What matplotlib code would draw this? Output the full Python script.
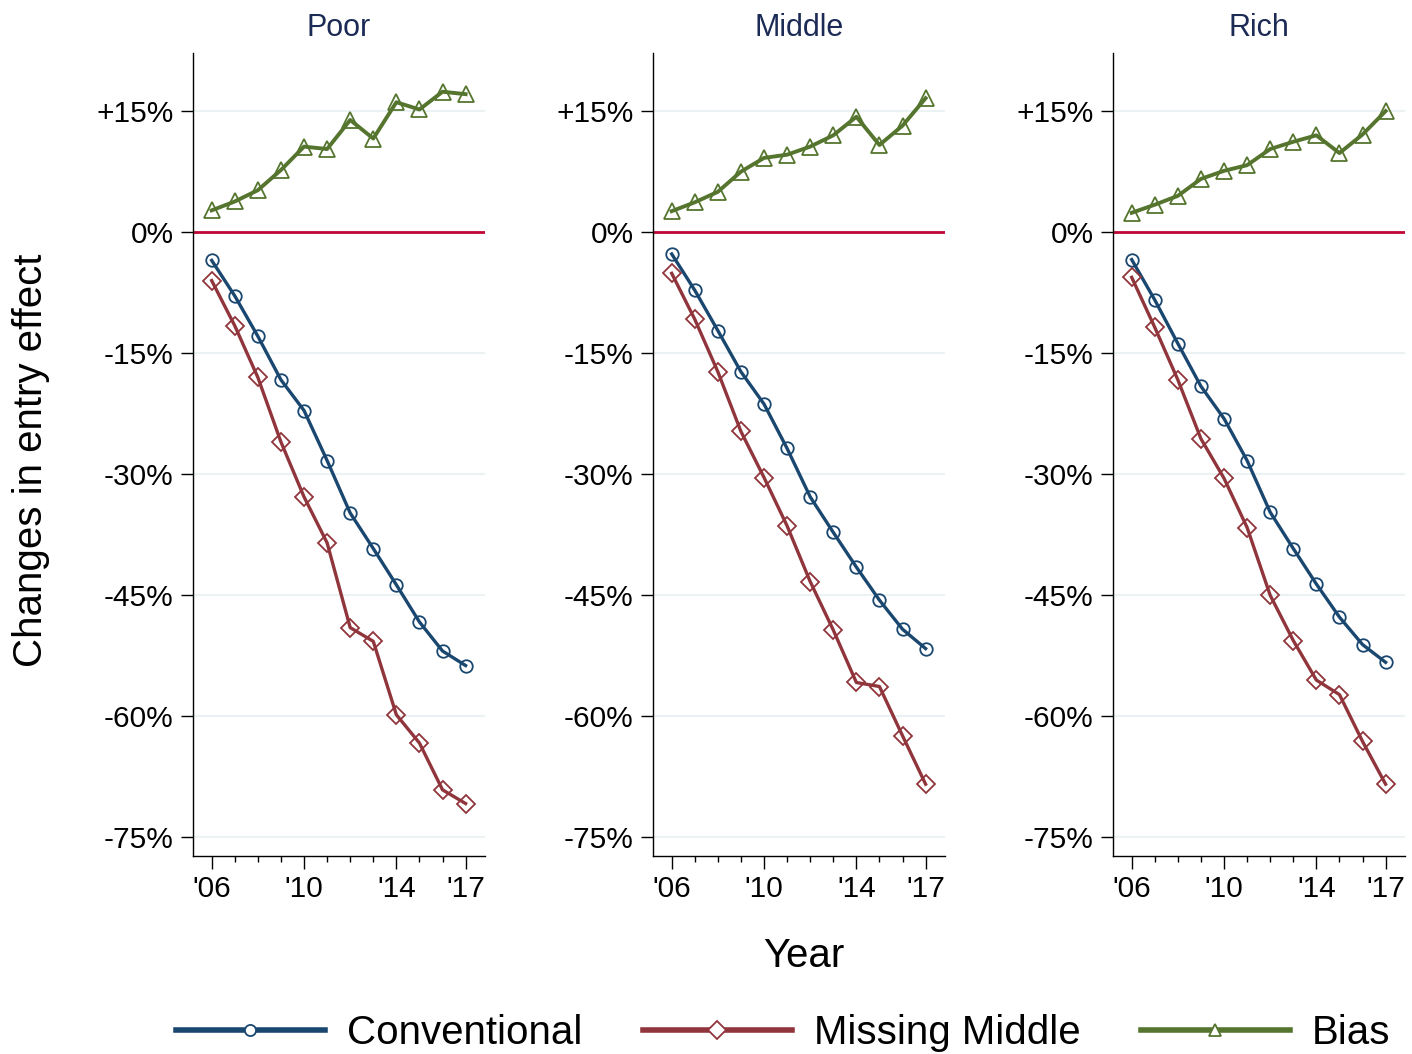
import matplotlib.pyplot as plt
from matplotlib.lines import Line2D

plt.rcParams['font.family'] = ['Liberation Sans', 'DejaVu Sans']

years = list(range(2006, 2018))
panels = ['Poor', 'Middle', 'Rich']

# values in percent
conv_poor = [-3.5, -7.9, -12.9, -18.3, -22.1, -28.3, -34.8, -39.2, -43.7, -48.3, -51.9, -53.7]
mm_poor = [-6.0, -11.6, -18.0, -26.0, -32.8, -38.5, -49.0, -50.7, -59.8, -63.3, -69.1, -70.8]
bias_poor = [2.7, 3.8, 5.2, 7.7, 10.6, 10.3, 13.9, 11.6, 16.1, 15.2, 17.4, 17.1]

conv_mid = [-2.7, -7.2, -12.2, -17.3, -21.3, -26.8, -32.8, -37.2, -41.5, -45.6, -49.2, -51.6]
mm_mid = [-5.1, -10.8, -17.3, -24.7, -30.4, -36.4, -43.3, -49.3, -55.8, -56.3, -62.4, -68.4]
bias_mid = [2.6, 3.7, 5.0, 7.5, 9.2, 9.6, 10.6, 12.0, 14.3, 10.8, 13.2, 16.6]

conv_rich = [-3.4, -8.4, -13.8, -19.1, -23.1, -28.3, -34.7, -39.2, -43.6, -47.7, -51.1, -53.3]
mm_rich = [-5.6, -11.8, -18.3, -25.6, -30.5, -36.6, -45.0, -50.6, -55.5, -57.3, -63.1, -68.4]
bias_rich = [2.4, 3.4, 4.5, 6.6, 7.6, 8.3, 10.3, 11.2, 12.0, 9.8, 12.1, 15.0]

data = {
    'Poor': (conv_poor, mm_poor, bias_poor),
    'Middle': (conv_mid, mm_mid, bias_mid),
    'Rich': (conv_rich, mm_rich, bias_rich),
}

yticks = [15, 0, -15, -30, -45, -60, -75]
ytick_labels = ['+15%', '0%', '-15%', '-30%', '-45%', '-60%', '-75%']
xticks = [2006, 2010, 2014, 2017]
xtick_labels = ["'06", "'10", "'14", "'17"]

c_conv = '#1a476f'
c_mm = '#90353b'
c_bias = '#55752f'
c_zero = '#c10534'
c_grid = '#eaf2f3'
c_title = '#1c2b55'

fig = plt.figure(figsize=(14.12, 10.54), dpi=100)
W, H = 1412, 1054
lefts = [193, 653, 1113]

for left, name in zip(lefts, panels):
    ax = fig.add_axes([left / W, (H - 856) / H, 292 / W, 803 / H])
    conv, mm, bias = data[name]
    for y in yticks:
        if y != 0:
            ax.axhline(y, color=c_grid, lw=1.5, zorder=0)
    ax.axhline(0, color=c_zero, lw=2.0, zorder=1)
    ax.plot(years, conv, color=c_conv, lw=2.4, marker='o', ms=9,
            mfc='none', mec=c_conv, mew=1.3, zorder=3)
    ax.plot(years, mm, color=c_mm, lw=2.4, marker='D', ms=9,
            mfc='none', mec=c_mm, mew=1.3, zorder=3)
    ax.plot(years, bias, color=c_bias, lw=2.8, marker='^', ms=11,
            mfc='none', mec=c_bias, mew=1.3, zorder=3)

    ax.set_xlim(2005.19, 2017.84)
    ax.set_ylim(-77.3, 22.2)
    ax.set_yticks(yticks)
    ax.set_yticklabels(ytick_labels)
    ax.set_xticks(xticks)
    ax.set_xticklabels(xtick_labels)
    ax.set_xticks(years, minor=True)
    ax.tick_params(axis='both', labelsize=21.5, length=9, width=1.0, direction='out', pad=5)
    ax.tick_params(axis='x', which='minor', length=4.5, width=1.0)
    ax.spines['top'].set_visible(False)
    ax.spines['right'].set_visible(False)
    ax.spines['left'].set_linewidth(1.0)
    ax.spines['bottom'].set_linewidth(1.0)
    ax.set_title(name, fontsize=22, color=c_title, pad=12)

fig.text(31 / W, 1 - 460 / H, 'Changes in entry effect', rotation=90,
         ha='center', va='center', fontsize=29)
fig.text(804 / W, 1 - 956 / H, 'Year', ha='center', va='center', fontsize=29)

handles = [
    Line2D([], [], color=c_conv, lw=4, marker='o', ms=8, mfc='white', mec=c_conv, mew=1.3),
    Line2D([], [], color=c_mm, lw=4, marker='D', ms=9, mfc='white', mec=c_mm, mew=1.3),
    Line2D([], [], color=c_bias, lw=4, marker='^', ms=9, mfc='white', mec=c_bias, mew=1.3),
]
fig.legend(handles, ['Conventional', 'Missing Middle', 'Bias'], loc='center',
           bbox_to_anchor=(783 / W, 1 - 1033 / H), ncol=3, frameon=False,
           fontsize=29, handlelength=3.7, handletextpad=0.55, columnspacing=1.5)

fig.savefig('out.png', dpi=100)
